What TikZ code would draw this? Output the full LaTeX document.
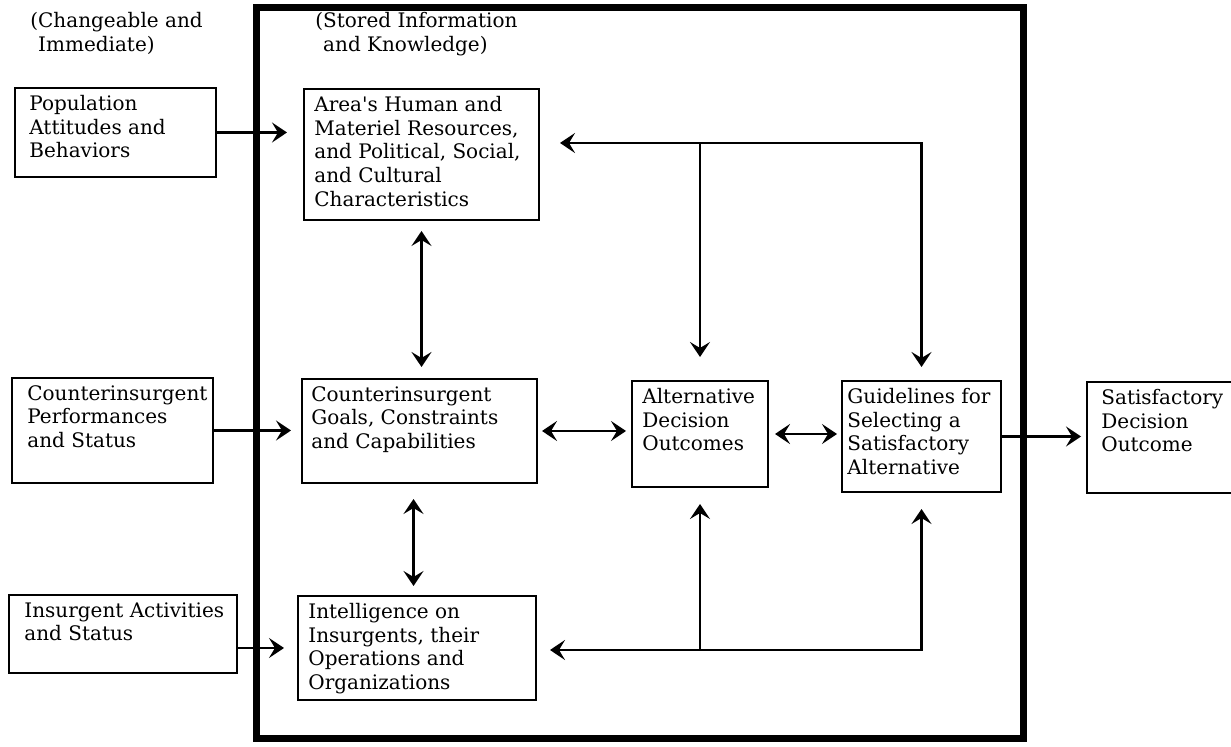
\documentclass[tikz,border=0pt]{standalone}
\usepackage{fontspec}
\setmainfont{DejaVu Serif}
\usetikzlibrary{arrows.meta,fit}
\newcommand{\boxfont}{\fontsize{10pt}{11.85pt}\selectfont}

\begin{document}
\begin{tikzpicture}[
      x=0.5pt, y=-0.5pt,
      infobox/.style={draw, line width=1pt, inner sep=0pt},
      boxtext/.style={anchor=north west, align=left, inner sep=0pt,
        xshift=#1, yshift=-4pt, font=\boxfont},
      boxtext/.default=5.5pt,
      head/.style={font=\boxfont, anchor=north west, align=left, inner sep=0pt},
      storeframe/.style={draw, line width=3.5pt, inner sep=0pt},
      flow/.style={line width=1.1pt,
        -{Stealth[length=7.5pt,width=10pt,inset=3pt]}},
      mutual/.style={line width=1.1pt,
        {Stealth[length=7.5pt,width=10pt,inset=3pt]}-{Stealth[length=7.5pt,width=10pt,inset=3pt]}}
    ]
    \clip (0,0) rectangle (1231,747);
    \node[storeframe, fit={(256,8) (1023,738)}] (store) {};
    \node[head] (changehead) at (30,12) {(Changeable and\\\phantom{(}Immediate)};
    \node[head] (storedhead) at (315,12) {(Stored Information\\\phantom{(}and Knowledge)};

    \node[infobox, fit={(15,88) (216,177)},
      label={[boxtext=7.5pt]north west:{Population\\Attitudes and\\Behaviors}}] (pop) {};
    \node[infobox, fit={(12,378) (213,483)},
      label={[boxtext=8pt]north west:{Counterinsurgent\\Performances\\and Status}}] (perf) {};
    \node[infobox, fit={(9,595) (237,673)},
      label={[boxtext=8pt]north west:{Insurgent Activities\\and Status}}] (insact) {};

    \node[infobox, fit={(304,89) (539,220)},
      label={[boxtext]north west:{Area\textquotesingle s Human and\\Materiel Resources,\\and Political, Social,\\and Cultural\\Characteristics}}] (area) {};
    \node[infobox, fit={(302,379) (537,483)},
      label={[boxtext=5pt]north west:{Counterinsurgent\\Goals, Constraints\\and Capabilities}}] (goals) {};
    \node[infobox, fit={(298,596) (536,700)},
      label={[boxtext]north west:{Intelligence on\\Insurgents, their\\Operations and\\Organizations}}] (intel) {};
    \node[infobox, fit={(632,381) (768,487)},
      label={[boxtext]north west:{Alternative\\Decision\\Outcomes}}] (alt) {};
    \node[infobox, fit={(842,381) (1001,492)},
      label={[boxtext=3pt]north west:{Guidelines for\\Selecting a\\Satisfactory\\Alternative}}] (guide) {};
    \node[infobox, fit={(1087,382) (1245,493)},
      label={[boxtext=7.5pt]north west:{Satisfactory\\Decision\\Outcome}}] (sat) {};

    \coordinate (topbus) at (guide.north |- 0,143);
    \coordinate (botbus) at (guide.south |- 0,650);

    \draw[flow, shorten >=8pt] (pop.east) -- (pop.east -| area.west);
    \draw[flow, shorten >=5pt] (perf.east) -- (perf.east -| goals.west);
    \draw[flow, shorten >=6.5pt] (intel.west -| insact.east) -- (intel.west);
    \draw[mutual, shorten <=5pt, shorten >=5.5pt] (area.south) -- (area.south |- goals.north);
    \draw[mutual, shorten <=7.5pt, shorten >=4.5pt] ([xshift=-3pt]goals.south) -- ([xshift=-3pt]goals.south |- intel.north);
    \draw[mutual, shorten <=2pt, shorten >=2.5pt] (goals.east) -- (goals.east -| alt.west);
    \draw[mutual, shorten <=3pt, shorten >=2pt] (alt.east) -- (alt.east -| guide.west);
    \draw[flow, shorten >=2.5pt] (guide.east) -- (guide.east -| sat.west);
    \draw[mutual, shorten <=10pt, shorten >=6.5pt] (topbus -| area.east) -- (topbus) -- (guide.north);
    \draw[flow, shorten >=11.5pt] (topbus -| alt.north) -- (alt.north);
    \draw[mutual, shorten <=6.5pt, shorten >=8pt] (botbus -| intel.east) -- (botbus) -- (guide.south);
    \draw[flow, shorten >=8pt] (botbus -| alt.south) -- (alt.south);
\end{tikzpicture}
\end{document}
